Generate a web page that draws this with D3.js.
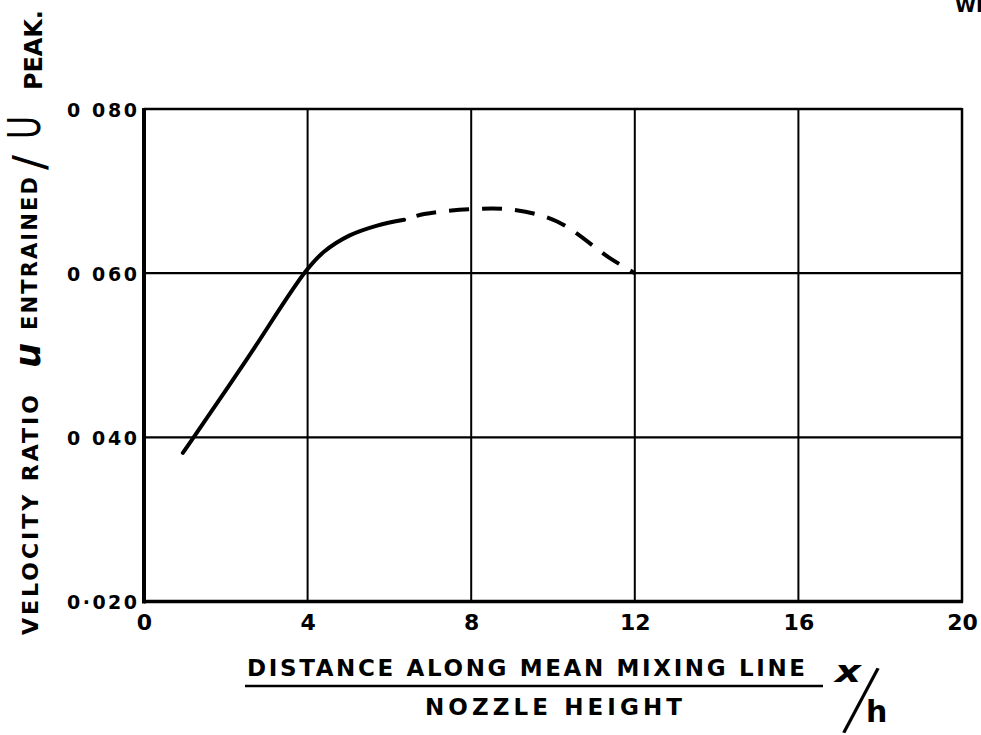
<!DOCTYPE html>
<html>
<head>
<meta charset="utf-8">
<script src="https://cdn.jsdelivr.net/npm/d3@7"></script>
<style>
  body { margin: 0; background: #fff; }
  svg { display: block; }
  text { font-family: 'DejaVu Sans', sans-serif; fill: #000; }
</style>
</head>
<body>
<svg width="981" height="735"></svg>
<script>
// Tick values and labels as lettered on the sheet
var xTicks = [0, 4, 8, 12, 16, 20];
var xTickLabels = ['0', '4', '8', '12', '16', '20'];
var yTicks = [0.020, 0.040, 0.060, 0.080];
var yTickLabels = ['0\u00b7020', '0 040', '0 060', '0 080'];

// Solid part of the curve (x/h, velocity ratio)
var solidX = [0.95, 1.2, 2.5, 3.95, 4.4, 5.03, 5.7, 6.36];
var solidY = [0.0381, 0.0399, 0.0494, 0.0602, 0.0626, 0.0646, 0.0658, 0.0665];

// Dashed part of the curve
var dashX = [6.36, 6.85, 8.0, 9.05, 10.1, 11.4, 12.0];
var dashY = [0.0665, 0.0672, 0.0678, 0.0677, 0.0663, 0.0618, 0.0600];

var svg = d3.select('svg');

// Plot area in page pixels (note: "top" is taken by window.top)
var plotLeft = 144, plotRight = 962, plotTop = 109, plotBottom = 601.5;

var x = d3.scaleLinear().domain([0, 20]).range([plotLeft, plotRight]);
var y = d3.scaleLinear().domain([0.020, 0.080]).range([plotBottom, plotTop]);

// Grid lines (inner ones only, frame drawn after)
svg.append('g')
  .selectAll('line')
  .data(xTicks.slice(1, -1))
  .join('line')
  .attr('x1', function (d) { return x(d); })
  .attr('x2', function (d) { return x(d); })
  .attr('y1', plotTop)
  .attr('y2', plotBottom)
  .attr('stroke', '#000')
  .attr('stroke-width', 2);

svg.append('g')
  .selectAll('line')
  .data(yTicks.slice(1, -1))
  .join('line')
  .attr('x1', plotLeft)
  .attr('x2', plotRight)
  .attr('y1', function (d) { return y(d); })
  .attr('y2', function (d) { return y(d); })
  .attr('stroke', '#000')
  .attr('stroke-width', 2.2);

// Frame: heavy left and bottom, lighter top and right
svg.append('line').attr('x1', plotLeft).attr('x2', plotRight).attr('y1', plotTop).attr('y2', plotTop)
  .attr('stroke', '#000').attr('stroke-width', 2.5);
svg.append('line').attr('x1', plotRight).attr('x2', plotRight).attr('y1', plotTop - 1).attr('y2', plotBottom + 1)
  .attr('stroke', '#000').attr('stroke-width', 2.5);
svg.append('line').attr('x1', plotLeft).attr('x2', plotRight + 1).attr('y1', plotBottom).attr('y2', plotBottom)
  .attr('stroke', '#000').attr('stroke-width', 3.5);
svg.append('line').attr('x1', plotLeft).attr('x2', plotLeft).attr('y1', plotTop - 1).attr('y2', plotBottom + 2)
  .attr('stroke', '#000').attr('stroke-width', 4);

// Axes, used for their tick labels only
var xAxis = d3.axisBottom(x)
  .tickValues(xTicks)
  .tickSize(0)
  .tickFormat(function (d, i) { return xTickLabels[i]; });

var gx = svg.append('g')
  .attr('transform', 'translate(0,' + plotBottom + ')')
  .call(xAxis);
gx.select('.domain').remove();
gx.selectAll('text')
  .attr('y', 28)
  .attr('dy', 0)
  .attr('font-size', 22)
  .attr('font-weight', 'bold')
  .attr('font-family', 'DejaVu Sans');

var yAxis = d3.axisLeft(y)
  .tickValues(yTicks)
  .tickSize(0)
  .tickFormat(function (d, i) { return yTickLabels[i]; });

var gy = svg.append('g')
  .attr('transform', 'translate(' + (plotLeft - 7) + ',0)')
  .call(yAxis);
gy.select('.domain').remove();
gy.selectAll('text')
  .attr('x', 0)
  .attr('dy', 7)
  .attr('font-size', 19)
  .attr('font-weight', 'bold')
  .attr('font-family', 'DejaVu Sans')
  .attr('textLength', 70)
  .attr('lengthAdjust', 'spacing');

// The curve
var line = d3.line()
  .x(function (d) { return x(d[0]); })
  .y(function (d) { return y(d[1]); })
  .curve(d3.curveCatmullRom.alpha(0.5));

svg.append('path')
  .datum(d3.zip(solidX, solidY))
  .attr('fill', 'none')
  .attr('stroke', '#000')
  .attr('stroke-width', 4)
  .attr('stroke-linecap', 'round')
  .attr('d', line);

svg.append('path')
  .datum(d3.zip(dashX, dashY))
  .attr('fill', 'none')
  .attr('stroke', '#000')
  .attr('stroke-width', 4)
  .attr('stroke-dasharray', '20,13')
  .attr('stroke-dashoffset', 20)
  .attr('d', line);

// Y axis title, lettered bottom to top
function vtext(tx, ty, str, size, len, opts) {
  opts = opts || {};
  var t = svg.append('text')
    .attr('transform', 'translate(' + tx + ',' + ty + ') rotate(-90)')
    .attr('font-size', size)
    .attr('font-weight', opts.weight || 'bold')
    .text(str);
  if (opts.family) t.attr('font-family', opts.family);
  if (opts.style) t.attr('font-style', opts.style);
  if (len) t.attr('textLength', len).attr('lengthAdjust', opts.adjust || 'spacing');
  return t;
}

vtext(38, 635, 'VELOCITY RATIO', 22, 240);
vtext(40, 368, 'u', 36, 25, { family: 'DejaVu Serif', style: 'italic', adjust: 'spacingAndGlyphs' });
vtext(37, 330, 'ENTRAINED', 21, 153);
vtext(45, 170, '/', 44, 15, { weight: 'normal', adjust: 'spacingAndGlyphs' });
vtext(40, 139, 'U', 44, 23, { weight: 'normal', adjust: 'spacingAndGlyphs' });
vtext(42, 90, 'PEAK.', 24, 80);

// X axis title
svg.append('text')
  .attr('x', 247)
  .attr('y', 676)
  .attr('font-size', 23)
  .attr('font-weight', 'bold')
  .attr('textLength', 558)
  .attr('lengthAdjust', 'spacing')
  .text('DISTANCE ALONG MEAN MIXING LINE');

svg.append('line')
  .attr('x1', 245).attr('x2', 823)
  .attr('y1', 686).attr('y2', 686)
  .attr('stroke', '#000')
  .attr('stroke-width', 2.5);

svg.append('text')
  .attr('x', 425)
  .attr('y', 715)
  .attr('font-size', 23)
  .attr('font-weight', 'bold')
  .attr('textLength', 257)
  .attr('lengthAdjust', 'spacing')
  .text('NOZZLE HEIGHT');

svg.append('text')
  .attr('x', 835)
  .attr('y', 682)
  .attr('font-size', 30)
  .attr('font-family', 'DejaVu Serif')
  .attr('font-style', 'italic')
  .attr('font-weight', 'bold')
  .attr('textLength', 26)
  .attr('lengthAdjust', 'spacingAndGlyphs')
  .text('x');

// long slash of x/h: a stretched, tilted glyph
svg.append('text')
  .attr('transform', 'translate(861,700) rotate(20) scale(1,2.2)')
  .attr('y', 13)
  .attr('text-anchor', 'middle')
  .attr('font-size', 40)
  .text('/');

svg.append('text')
  .attr('x', 866)
  .attr('y', 722)
  .attr('font-size', 30)
  .attr('font-weight', 'bold')
  .text('h');

// Cut-off lettering at the top right of the sheet
svg.append('text')
  .attr('x', 955)
  .attr('y', 12)
  .attr('font-size', 19)
  .attr('font-weight', 'bold')
  .text('WI');
</script>
</body>
</html>
